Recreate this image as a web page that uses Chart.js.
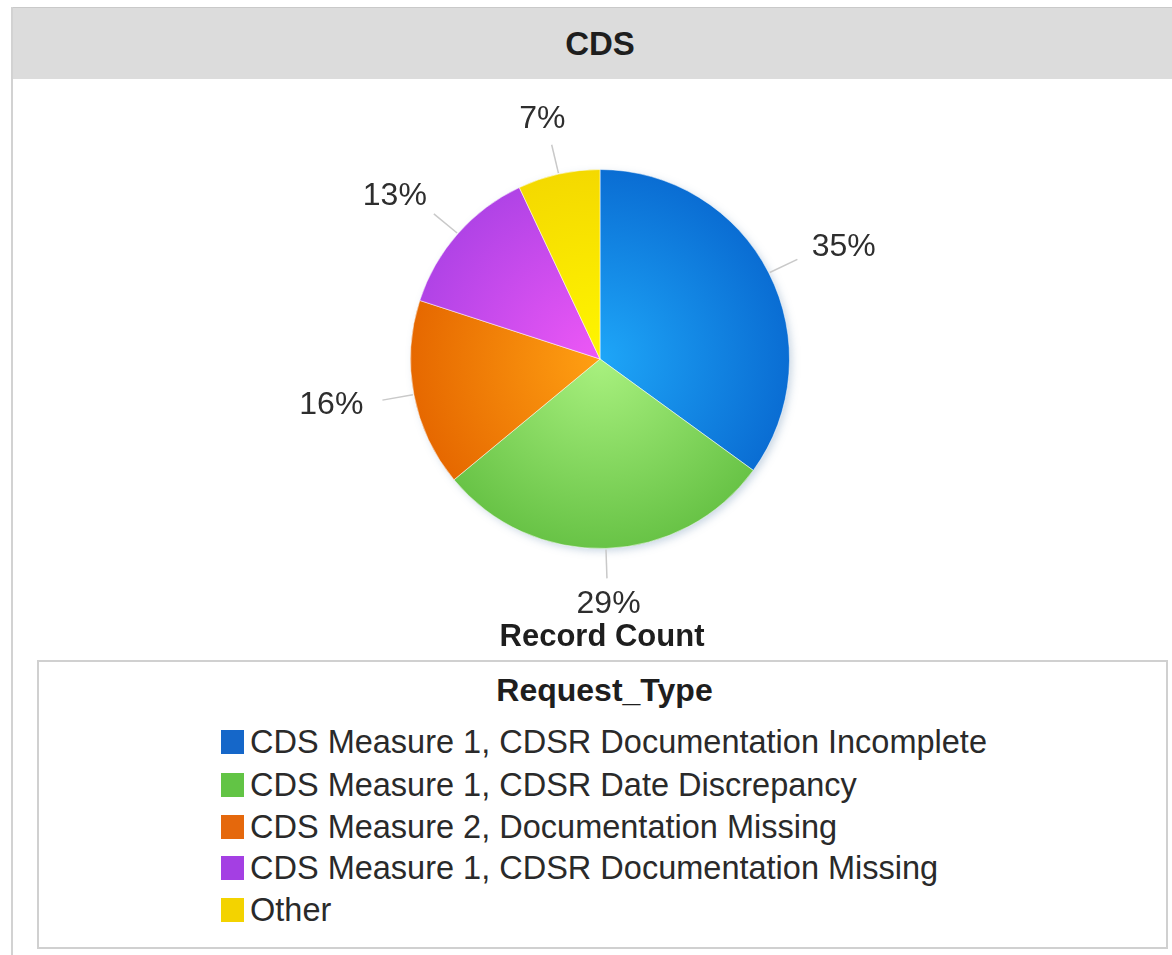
<!DOCTYPE html>
<html>
<head>
<meta charset="utf-8">
<script src="https://cdn.jsdelivr.net/npm/chart.js@4.4.1/dist/chart.umd.min.js"></script>
<style>
  html, body { margin: 0; padding: 0; background: #ffffff; }
  body { width: 1172px; height: 955px; position: relative; overflow: hidden;
         font-family: "Liberation Sans", Arial, Helvetica, sans-serif; color: #2a2a2a; }
  #frameLeft { position: absolute; left: 11px; top: 7px; width: 2px; bottom: 0; background: #d2d2d2; }
  #header { position: absolute; left: 13px; top: 7px; right: 0; height: 72px; background: #dcdcdc;
            border-top: 1px solid #c9c9c9; box-sizing: border-box; }
  #headerTitle { position: absolute; left: 0; top: 7px; width: 1200px; height: 72px; line-height: 74px;
                 text-align: center; font-weight: bold; font-size: 33px; color: #1e1e1e; }
  #chartBox { position: absolute; left: 0; top: 80px; width: 1172px; height: 580px; }
  #measure { position: absolute; left: 0; width: 1204px; top: 616px; height: 40px; line-height: 40px;
             text-align: center; font-weight: bold; font-size: 31px; color: #1e1e1e; }
  #legend { position: absolute; left: 37px; top: 660px; width: 1131px; height: 289px;
            border: 2px solid #d0d0d0; box-sizing: border-box; }
  #legendTitle { position: absolute; left: 0; width: 1131px; top: 8px; height: 40px; line-height: 40px;
                 text-align: center; font-weight: bold; font-size: 32px; color: #1e1e1e; }
  .item { position: absolute; left: 182px; height: 42px; line-height: 42px; display: flex; align-items: center;
          font-size: 32.5px; color: #2a2a2a; white-space: nowrap; }
  .sw { width: 23px; height: 24px; margin-right: 6px; flex: none; }
</style>
</head>
<body>
<div id="frameLeft"></div>
<div id="header"></div>
<div id="headerTitle"></div>
<div id="chartBox"><canvas id="pie" width="1172" height="580"></canvas></div>
<div id="measure"></div>
<div id="legend"><div id="legendTitle"></div></div>
<script>
// ---- data ----
const chartTitle = "CDS";
const measureLabel = "Record Count";
const legendTitle = "Request_Type";
const categories = [
  "CDS Measure 1, CDSR Documentation Incomplete",
  "CDS Measure 1, CDSR Date Discrepancy",
  "CDS Measure 2, Documentation Missing",
  "CDS Measure 1, CDSR Documentation Missing",
  "Other"
];
const values = [35, 29, 16, 13, 7];
const innerColors = ["#1ea6f8", "#a9f17f", "#ffa012", "#ee58f6", "#fff600"];
const outerColors = ["#0a6dd3", "#68c346", "#e66800", "#b043e6", "#f4d900"];
const legendColors = ["#1567c9", "#62c445", "#e5680c", "#a43fe3", "#f3d300"];

document.getElementById("headerTitle").textContent = chartTitle;
document.getElementById("measure").textContent = measureLabel;
document.getElementById("legendTitle").textContent = legendTitle;

const legendEl = document.getElementById("legend");
const rowCenters = [80, 123, 165, 206, 248];
categories.forEach((c, i) => {
  const d = document.createElement("div");
  d.className = "item";
  d.style.top = (rowCenters[i] - 21) + "px";
  const sw = document.createElement("span");
  sw.className = "sw";
  sw.style.background = legendColors[i];
  const t = document.createElement("span");
  t.textContent = c;
  d.appendChild(sw); d.appendChild(t);
  legendEl.appendChild(d);
});

const total = values.reduce((a, b) => a + b, 0);

const shadowPlugin = {
  id: "pieShadow",
  beforeDatasetsDraw(chart) {
    const arc = chart.getDatasetMeta(0).data[0];
    if (!arc) return;
    const p = arc.getProps(["x", "y", "outerRadius"], true);
    const ctx = chart.ctx;
    ctx.save();
    ctx.shadowColor = "rgba(90,130,170,0.35)";
    ctx.shadowBlur = 8;
    ctx.shadowOffsetX = 3;
    ctx.shadowOffsetY = 3;
    ctx.beginPath();
    ctx.arc(p.x, p.y, p.outerRadius - 1, 0, Math.PI * 2);
    ctx.fillStyle = "#ffffff";
    ctx.fill();
    ctx.restore();
  }
};

const labelPlugin = {
  id: "outLabels",
  afterDatasetsDraw(chart) {
    const ctx = chart.ctx;
    const meta = chart.getDatasetMeta(0);
    ctx.save();
    ctx.font = "32px 'Liberation Sans', Arial, sans-serif";
    ctx.textAlign = "center";
    ctx.textBaseline = "middle";
    meta.data.forEach((arc, i) => {
      const p = arc.getProps(["x", "y", "startAngle", "endAngle", "outerRadius"], true);
      const mid = (p.startAngle + p.endAngle) / 2;
      const dx = Math.cos(mid), dy = Math.sin(mid);
      const r = p.outerRadius;
      ctx.strokeStyle = "#c9c9c9";
      ctx.lineWidth = 1.5;
      ctx.beginPath();
      ctx.moveTo(p.x + dx * (r + 1), p.y + dy * (r + 1));
      ctx.lineTo(p.x + dx * (r + 32), p.y + dy * (r + 30));
      ctx.stroke();
      const txt = Math.round(values[i] / total * 100) + "%";
      const w = ctx.measureText(txt).width;
      const cx = p.x + dx * (r + 52) + dx * w / 2;
      const cy = p.y + dy * (r + 46) + dy * 10;
      ctx.fillStyle = "#2e2e2e";
      ctx.fillText(txt, cx, cy);
    });
    ctx.restore();
  }
};

new Chart(document.getElementById("pie"), {
  type: "pie",
  data: {
    labels: categories,
    datasets: [{
      data: values,
      backgroundColor: (c) => {
        const chart = c.chart;
        const a = chart.chartArea;
        const i = c.dataIndex;
        if (!a || i === undefined) return legendColors[i || 0];
        const cx = (a.left + a.right) / 2, cy = (a.top + a.bottom) / 2;
        const r = Math.min(a.right - a.left, a.bottom - a.top) / 2;
        const g = chart.ctx.createRadialGradient(cx, cy, 0, cx, cy, r);
        g.addColorStop(0, innerColors[i]);
        g.addColorStop(1, outerColors[i]);
        return g;
      },
      borderColor: "rgba(255,255,255,0.5)",
      borderWidth: 1
    }]
  },
  options: {
    responsive: false,
    devicePixelRatio: 1,
    animation: false,
    layout: { padding: { left: 408, right: 380, top: 89, bottom: 111 } },
    plugins: { legend: { display: false }, tooltip: { enabled: false } }
  },
  plugins: [shadowPlugin, labelPlugin]
});
</script>
</body>
</html>
